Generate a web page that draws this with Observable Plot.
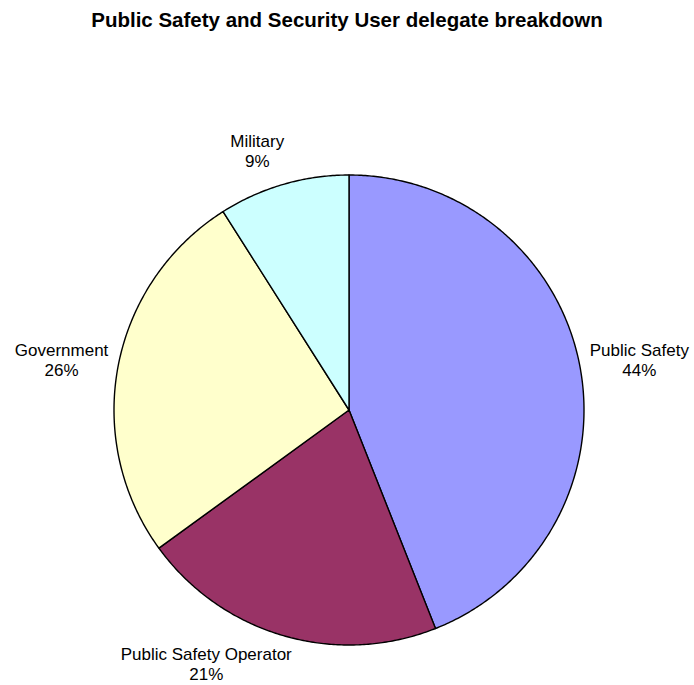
<!DOCTYPE html>
<html><head><meta charset="utf-8">
<script src="https://cdn.jsdelivr.net/npm/d3@7"></script>
<script src="https://cdn.jsdelivr.net/npm/@observablehq/plot@0.6"></script>
<style>
body{margin:0;background:#fff;overflow:hidden;}
#title{box-sizing:border-box;width:694px;height:40px;padding-top:10px;font:bold 20.5px "Liberation Sans",Arial,sans-serif;line-height:20px;text-align:center;color:#000;}
#chart svg{display:block;}
</style>
</head><body>
<div id="title">Public Safety and Security User delegate breakdown</div>
<div id="chart"></div>
<script>
// Data
const categories = ["Public Safety", "Public Safety Operator", "Government", "Military"];
const values = [44, 21, 26, 9];
const colors = ["#9999FF", "#993366", "#FFFFCC", "#CCFFFF"];

// Layout (pixels)
const W = 694, H = 645;
const R = 235;              // pie radius in px
const CX = 348.5, CY = 369.5; // pie centre in svg px
const FONT = '"Liberation Sans", Arial, sans-serif';
const FS = 17;

const total = d3.sum(values);
const arcs = d3.pie().sort(null).value(d => d)(values);

// slice polygons in radius units (math orientation, y up)
const poly = [];
arcs.forEach((a, i) => {
  const n = Math.max(2, Math.ceil((a.endAngle - a.startAngle) / (Math.PI / 360)));
  poly.push({k: categories[i], c: colors[i], x: 0, y: 0});
  for (let j = 0; j <= n; j++) {
    const t = a.startAngle + (a.endAngle - a.startAngle) * j / n;
    poly.push({k: categories[i], c: colors[i], x: Math.sin(t), y: Math.cos(t)});
  }
});

// label measurement
const ctx = document.createElement("canvas").getContext("2d");
ctx.font = `${FS}px ${FONT}`;
const labels = arcs.map((a, i) => {
  const text = `${categories[i]}\n${Math.round(values[i] / total * 100)}%`;
  const w = d3.max(text.split("\n"), s => ctx.measureText(s).width);
  const m = (a.startAngle + a.endAngle) / 2;
  const s = Math.sin(m), c = Math.cos(m);
  const k = 1 + 10 / R;
  const vertical = Math.abs(c) > Math.abs(s);
  let x = s * k + Math.sign(s) * (w / 2) * (vertical ? 0.87 : 1) / R;
  let y = c * k;
  if (vertical) y += (c > 0 ? 20 : -22) / R;
  return {text, x, y};
});

const chart = Plot.plot({
  width: W, height: H,
  margin: 0,
  x: {domain: [-CX / R, (W - CX) / R], range: [0, W], axis: null},
  y: {domain: [-(H - CY) / R, CY / R], range: [H, 0], axis: null},
  color: {type: "identity"},
  style: {fontFamily: FONT, background: "#fff", overflow: "visible"},
  marks: [
    Plot.line(poly, {x: "x", y: "y", z: "k", fill: "c", stroke: "#000", strokeWidth: 1.4, curve: "linear-closed", strokeLinejoin: "round"}),
    Plot.text(labels, {x: "x", y: "y", text: "text", fontSize: FS, lineAnchor: "middle", textAnchor: "middle", lineHeight: 1.176, fill: "#000", dy: -4})
  ]
});
document.getElementById("chart").appendChild(chart);
</script>
</body></html>
